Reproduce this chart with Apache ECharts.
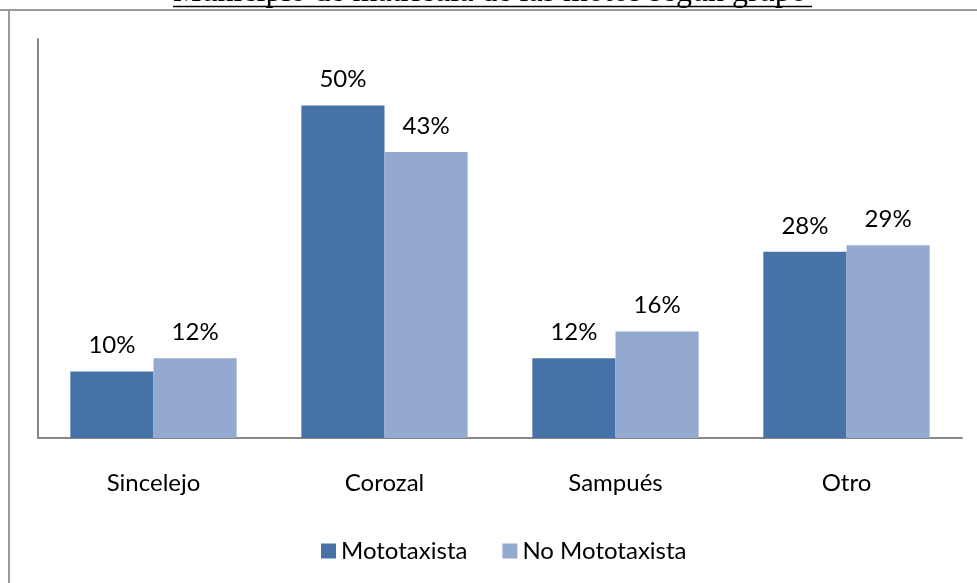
<!DOCTYPE html>
<html>
<head>
<meta charset="utf-8">
<script src="https://cdn.jsdelivr.net/npm/echarts@6/dist/echarts.min.js"></script>
<style>
  html, body { margin: 0; padding: 0; background: #fff; }
  #chart { width: 977px; height: 583px; }
</style>
</head>
<body>
<div id="chart"></div>
<script>
// datos del gráfico
const categorias = ['Sincelejo', 'Corozal', 'Sampués', 'Otro']
const mototaxista = [10, 50, 12, 28]
const noMototaxista = [12, 43, 16, 29]
const titulo = 'Municipio de matrícula de las motos según grupo'

const fuente = 'Lato'
const chart = echarts.init(document.getElementById('chart'))

const etiqueta = {
  show: true,
  position: 'top',
  distance: 14,
  formatter: '{c}%',
  color: '#000',
  fontFamily: fuente,
  fontSize: 24
}

chart.setOption({
  animation: false,
  graphic: [
    // título recortado arriba
    {
      type: 'text',
      left: 173,
      top: -23,
      style: { text: titulo, font: '32px "Liberation Serif"', fill: '#000' }
    },
    {
      type: 'line',
      shape: { x1: 173, y1: 6.5, x2: 812, y2: 6.5 },
      style: { stroke: '#000', lineWidth: 1.5 }
    },
    // marco exterior
    {
      type: 'line',
      shape: { x1: 0, y1: 10, x2: 977, y2: 10 },
      style: { stroke: '#9a9a9a', lineWidth: 2 }
    },
    {
      type: 'line',
      shape: { x1: 9, y1: 10, x2: 9, y2: 583 },
      style: { stroke: '#9a9a9a', lineWidth: 2 }
    }
  ],
  legend: {
    top: 534,
    left: 316,
    itemWidth: 15,
    itemHeight: 15,
    itemGap: 35,
    icon: 'rect',
    textStyle: { fontFamily: fuente, fontSize: 24, color: '#000' },
    data: ['Mototaxista', 'No Mototaxista']
  },
  grid: { left: 38, right: 15, top: 39, bottom: 145 },
  xAxis: {
    type: 'category',
    data: categorias,
    axisLine: { lineStyle: { color: '#868686', width: 2 } },
    axisTick: { show: false },
    axisLabel: { margin: 33, color: '#000', fontFamily: fuente, fontSize: 24 }
  },
  yAxis: {
    type: 'value',
    min: 0,
    max: 60,
    axisLine: { show: true, lineStyle: { color: '#868686', width: 2 } },
    axisTick: { show: false },
    axisLabel: { show: false },
    splitLine: { show: false }
  },
  series: [
    {
      name: 'Mototaxista',
      type: 'bar',
      data: mototaxista,
      barGap: '0%',
      barCategoryGap: '28%',
      itemStyle: { color: '#4672A8' },
      label: etiqueta
    },
    {
      name: 'No Mototaxista',
      type: 'bar',
      data: noMototaxista,
      itemStyle: { color: '#94A9D0' },
      label: etiqueta
    }
  ]
})
</script>
</body>
</html>
